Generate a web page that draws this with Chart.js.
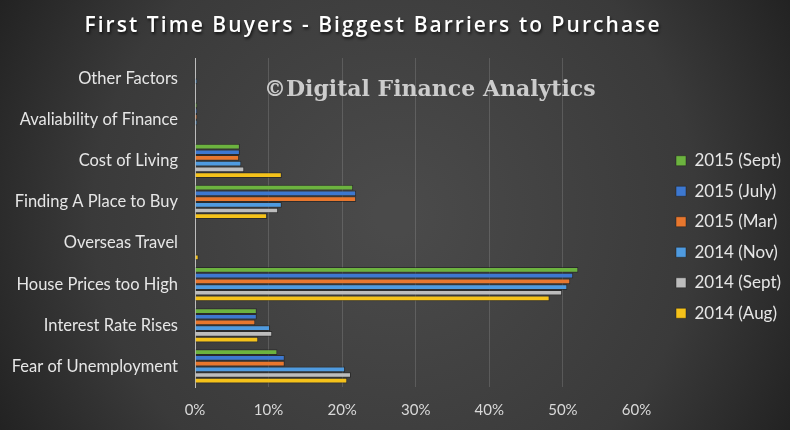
<!DOCTYPE html>
<html>
<head>
<meta charset="utf-8">
<script src="https://cdn.jsdelivr.net/npm/chart.js@4.4.1/dist/chart.umd.min.js"></script>
<style>
  html, body { margin: 0; padding: 0; background: #2a2a2a; }
  #wrap { width: 790px; height: 430px; position: relative; }
</style>
</head>
<body>
<div id="wrap"><canvas id="grafico"></canvas></div>
<script>
// Categorías (de arriba hacia abajo, como en la imagen)
const categorias = [
    'Other Factors',
    'Avaliability of Finance',
    'Cost of Living',
    'Finding A Place to Buy',
    'Overseas Travel',
    'House Prices too High',
    'Interest Rate Rises',
    'Fear of Unemployment',
];

// Porcentajes por encuesta
const sept2015 = [0, 0.3, 6.1, 21.5, 0, 52.1, 8.4, 11.2];
const july2015 = [0, 0.3, 6.1, 21.9, 0, 51.4, 8.4, 12.2];
const mar2015 = [0, 0.3, 6.0, 21.9, 0, 51.0, 8.2, 12.2];
const nov2014 = [0.3, 0.3, 6.3, 11.8, 0, 50.6, 10.2, 20.4];
const sept2014 = [0, 0, 6.7, 11.3, 0, 49.9, 10.5, 21.2];
const aug2014 = [0, 0, 11.8, 9.8, 0.5, 48.2, 8.6, 20.7];

const ticksX = [0, 10, 20, 30, 40, 50, 60];

const nombres = ['2015 (Sept)', '2015 (July)', '2015 (Mar)', '2014 (Nov)', '2014 (Sept)', '2014 (Aug)'];
const series = [sept2015, july2015, mar2015, nov2014, sept2014, aug2014];
const colores = ['#6cb33f', '#3d78d0', '#e8772e', '#4f9be0', '#bdbdbd', '#f5c21a'];

const FUENTE = 'Lato, "Open Sans", sans-serif';
const TITULO = 'First Time Buyers - Biggest Barriers to Purchase';

// Fondo degradado oscuro, título y marca de agua
const fondo = {
    id: 'fondo',
    afterLayout(chart) {
        // Separar la leyenda del área del gráfico como en el original
        const lg = chart.legend;
        const pad = lg.options.labels.padding;
        const dx = 676 - pad - lg.left;
        const dy = -7;
        lg.left += dx; lg.right += dx;
        lg.top += dy; lg.bottom += dy;
    },
    beforeDraw(chart) {
        const { ctx, width, height } = chart;
        ctx.save();
        const g = ctx.createRadialGradient(width * 0.5, height * 0.5, 20, width * 0.5, height * 0.5, width * 0.62);
        g.addColorStop(0, '#4a4a4a');
        g.addColorStop(0.6, '#3a3a3a');
        g.addColorStop(1, '#1c1c1c');
        ctx.fillStyle = g;
        ctx.fillRect(0, 0, width, height);

        ctx.font = '600 21px "Open Sans", sans-serif';
        const w = ctx.measureText(TITULO).width;
        if ('letterSpacing' in ctx) {
            ctx.letterSpacing = Math.max(0, (575 - w) / (TITULO.length - 1)) + 'px';
        }
        ctx.textAlign = 'center';
        ctx.textBaseline = 'middle';
        ctx.shadowColor = 'rgba(0,0,0,0.7)';
        ctx.shadowOffsetX = 1;
        ctx.shadowOffsetY = 2;
        ctx.shadowBlur = 3;
        ctx.fillStyle = '#ffffff';
        ctx.fillText(TITULO, 373, 26);
        ctx.restore();
    },
    afterDraw(chart) {
        const { ctx } = chart;
        ctx.save();
        ctx.font = 'bold 22px "DejaVu Serif", "Liberation Serif", serif';
        ctx.fillStyle = 'rgba(220,220,220,0.9)';
        ctx.textAlign = 'left';
        ctx.textBaseline = 'middle';
        ctx.fillText('\u00A9Digital Finance Analytics', 264, 90);
        ctx.restore();
    },
};

new Chart(document.getElementById('grafico'), {
    type: 'bar',
    data: {
        labels: categorias,
        datasets: series.map((s, i) => ({
            label: nombres[i],
            data: s,
            backgroundColor: colores[i],
            borderColor: 'rgba(30,30,30,0.6)',
            borderWidth: { top: 1, bottom: 1, right: 1, left: 0 },
            barPercentage: 1,
            categoryPercentage: 0.83,
        })),
    },
    options: {
        indexAxis: 'y',
        responsive: true,
        maintainAspectRatio: false,
        animation: false,
        layout: { padding: { left: 0, right: 25, top: 58, bottom: 0 } },
        scales: {
            x: {
                min: 0,
                max: 60,
                afterBuildTicks: (axis) => {
                    axis.ticks = ticksX.map((v) => ({ value: v }));
                },
                afterFit: (axis) => {
                    axis.height = 43;
                },
                grid: {
                    color: (c) => (c.tick && c.tick.value === 60 ? 'rgba(0,0,0,0)' : 'rgba(255,255,255,0.14)'),
                    drawTicks: false,
                },
                border: { display: false },
                ticks: {
                    color: '#d9d9d9',
                    font: { family: FUENTE, size: 15 },
                    padding: 14,
                    callback: (v) => v + '%',
                },
            },
            y: {
                afterFit: (axis) => {
                    axis.width = 195;
                },
                grid: { display: false, drawTicks: false },
                border: { display: true, color: '#bdbdbd', width: 1 },
                ticks: {
                    color: '#e6e6e6',
                    font: { family: FUENTE, size: 16.5 },
                    padding: 17,
                },
            },
        },
        plugins: {
            title: { display: false },
            legend: {
                position: 'right',
                labels: {
                    color: '#e6e6e6',
                    font: { family: FUENTE, size: 17 },
                    boxWidth: 10,
                    boxHeight: 10,
                    padding: 13.5,
                },
            },
            tooltip: { enabled: false },
        },
    },
    plugins: [fondo],
});
</script>
</body>
</html>
